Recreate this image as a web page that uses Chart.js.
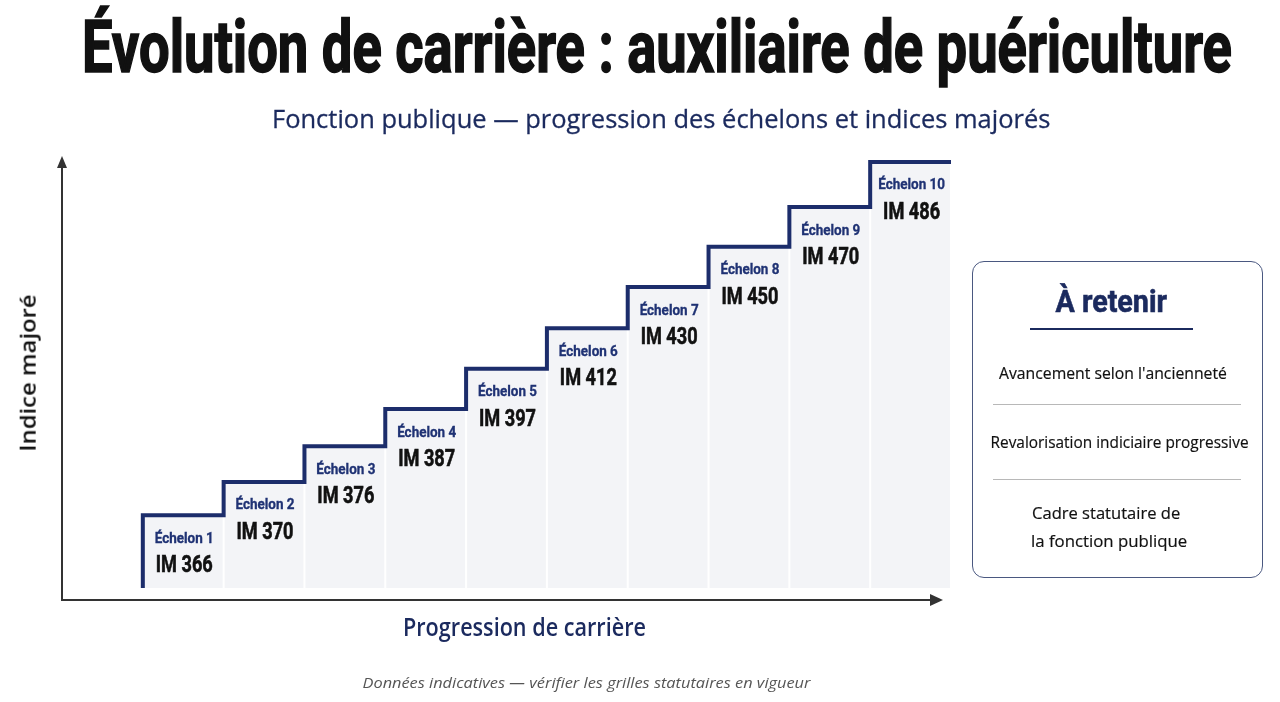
<!DOCTYPE html>
<html lang="fr">
<head>
<meta charset="utf-8">
<script src="https://cdn.jsdelivr.net/npm/chart.js@4.4.1/dist/chart.umd.min.js"></script>
<style>
  html, body { margin: 0; padding: 0; background: #fff; }
  #page { position: relative; width: 1280px; height: 702px; overflow: hidden; }
  #graph { position: absolute; left: 0; top: 0; }
  .txt { position: absolute; white-space: nowrap; line-height: 1; transform-origin: center center; }
  #titre { font: 700 72px Roboto, sans-serif; color: #111; -webkit-text-stroke: 1.6px #111; }
  #sousTitre { font: 400 26px "Open Sans", "Noto Sans", sans-serif; color: #1b2a5e; -webkit-text-stroke: 0.3px #1b2a5e; }
  #axeY { font: 600 22px "Open Sans", "Noto Sans", sans-serif; color: #111; }
  #axeX { font: 600 25px "Open Sans", "Noto Sans", sans-serif; color: #1b2a5e; }
  #note { font: italic 400 15px "Open Sans", "Noto Sans", sans-serif; color: #555; }
  #boite { position: absolute; left: 972px; top: 261px; width: 289px; height: 315px;
           border: 1.5px solid #4a5880; border-radius: 12px; box-sizing: content-box; }
  #boiteTitre { font: 700 31px Roboto, sans-serif; color: #1b2a5e; -webkit-text-stroke: 0.6px #1b2a5e; }
  .item { font: 400 17px "Open Sans", "Noto Sans", sans-serif; color: #111; -webkit-text-stroke: 0.2px #111; }
  .trait { position: absolute; height: 0; }
</style>
</head>
<body>
<div id="page">
  <canvas id="graph" width="1280" height="702"></canvas>

  <div class="txt" id="titre" data-cx="657" data-cy="47" data-w="1150">Évolution de carrière : auxiliaire de puériculture</div>
  <div class="txt" id="sousTitre" data-cx="661" data-cy="118" data-w="778">Fonction publique — progression des échelons et indices majorés</div>
  <div class="txt" id="axeY" data-cx="26" data-cy="373" data-w="157" data-rot="-90">Indice majoré</div>
  <div class="txt" id="axeX" data-cx="524" data-cy="626" data-w="243">Progression de carrière</div>
  <div class="txt" id="note" data-cx="586" data-cy="682" data-w="448">Données indicatives — vérifier les grilles statutaires en vigueur</div>

  <div id="boite"></div>
  <div class="txt" id="boiteTitre" data-cx="1111" data-cy="301" data-w="112">À retenir</div>
  <div class="trait" style="left:1030px; top:328px; width:163px; border-top:2.5px solid #1b2a5e;"></div>
  <div class="txt item" data-cx="1113" data-cy="372" data-w="228">Avancement selon l'ancienneté</div>
  <div class="trait" style="left:993px; top:404px; width:248px; border-top:1px solid #b8b8b8;"></div>
  <div class="txt item" data-cx="1119" data-cy="441" data-w="258">Revalorisation indiciaire progressive</div>
  <div class="trait" style="left:993px; top:479px; width:248px; border-top:1px solid #b8b8b8;"></div>
  <div class="txt item" data-cx="1106" data-cy="512" data-w="148">Cadre statutaire de</div>
  <div class="txt item" data-cx="1109" data-cy="540" data-w="156">la fonction publique</div>
</div>

<script>
// === Données ===
var echelons = ['Échelon 1', 'Échelon 2', 'Échelon 3', 'Échelon 4', 'Échelon 5',
                'Échelon 6', 'Échelon 7', 'Échelon 8', 'Échelon 9', 'Échelon 10']
var indices = [366, 370, 376, 387, 397, 412, 430, 450, 470, 486]
// hauteur de chaque marche (échelle visuelle 0-100)
var niveaux = [19.2, 26.7, 34.8, 43.2, 52.3, 61.5, 70.8, 79.9, 88.9, 99.1]
var niveauBase = 2.7

var navy = '#1c2d6b'

// === Texte HTML : centrage + largeur ===
document.querySelectorAll('.txt').forEach(function(el) {
    var w = el.offsetWidth
    var h = el.offsetHeight
    var s = parseFloat(el.dataset.w) / w
    var rot = el.dataset.rot ? 'rotate(' + el.dataset.rot + 'deg) ' : ''
    el.style.left = (parseFloat(el.dataset.cx) - w / 2) + 'px'
    el.style.top = (parseFloat(el.dataset.cy) - h / 2) + 'px'
    el.style.transform = rot + 'scaleX(' + s + ')'
})

// === Données du graphe ===
var barres = []
for (var i = 0; i < niveaux.length; i++) {
    barres.push({ x: i + 0.5, y: niveaux[i] })
}
// escalier : départ en bas de la 1re marche, puis un point par marche
var marches = [{ x: 0, y: niveauBase }]
for (var i = 0; i < niveaux.length; i++) {
    marches.push({ x: i, y: niveaux[i] })
}
marches.push({ x: niveaux.length, y: niveaux[niveaux.length - 1] })

// === Axes avec flèches ===
var axesPlugin = {
    id: 'axes',
    beforeDatasetsDraw: function(chart) {
        var ctx = chart.ctx
        var a = chart.chartArea
        ctx.save()
        ctx.strokeStyle = '#333'
        ctx.fillStyle = '#333'
        ctx.lineWidth = 2
        ctx.beginPath()
        ctx.moveTo(a.left, a.top + 8)
        ctx.lineTo(a.left, a.bottom)
        ctx.lineTo(a.right - 16, a.bottom)
        ctx.stroke()
        ctx.beginPath()
        ctx.moveTo(a.left, a.top - 2)
        ctx.lineTo(a.left - 5, a.top + 10)
        ctx.lineTo(a.left + 5, a.top + 10)
        ctx.closePath()
        ctx.fill()
        ctx.beginPath()
        ctx.moveTo(a.right - 8, a.bottom)
        ctx.lineTo(a.right - 21, a.bottom - 6)
        ctx.lineTo(a.right - 21, a.bottom + 6)
        ctx.closePath()
        ctx.fill()
        ctx.restore()
    }
}

// === Étiquettes des marches ===
function texteEtroit(ctx, txt, x, y, largeur) {
    var w = ctx.measureText(txt).width
    ctx.save()
    ctx.translate(x, y)
    ctx.scale(largeur / w, 1)
    ctx.fillText(txt, 0, 0)
    ctx.strokeText(txt, 0, 0)
    ctx.restore()
}

var etiquettesPlugin = {
    id: 'etiquettes',
    afterDatasetsDraw: function(chart) {
        var ctx = chart.ctx
        var meta = chart.getDatasetMeta(0)
        ctx.save()
        ctx.textAlign = 'center'
        ctx.textBaseline = 'middle'
        meta.data.forEach(function(bar, i) {
            ctx.font = '700 14px Roboto'
            ctx.fillStyle = '#1f3274'
            ctx.strokeStyle = '#1f3274'
            ctx.lineWidth = 0.3
            var k1 = 59 / ctx.measureText('Échelon 1').width
            texteEtroit(ctx, echelons[i], bar.x + 1, bar.y + 24, ctx.measureText(echelons[i]).width * k1)
            ctx.font = '700 24px Roboto'
            ctx.fillStyle = '#111'
            ctx.strokeStyle = '#111'
            ctx.lineWidth = 0.6
            var k2 = 57 / ctx.measureText('IM 366').width
            var t = 'IM ' + indices[i]
            texteEtroit(ctx, t, bar.x + 1, bar.y + 51, ctx.measureText(t).width * k2)
        })
        ctx.restore()
    }
}

var config = {
    data: {
        datasets: [{
            type: 'bar',
            data: barres,
            base: niveauBase,
            backgroundColor: '#f3f4f7',
            borderWidth: 0,
            barPercentage: 0.975,
            categoryPercentage: 1,
            order: 2
        }, {
            type: 'line',
            data: marches,
            stepped: 'before',
            borderColor: navy,
            borderWidth: 4,
            borderJoinStyle: 'miter',
            borderCapStyle: 'butt',
            pointRadius: 0,
            fill: false,
            clip: false,
            order: 1
        }]
    },
    options: {
        responsive: false,
        animation: false,
        layout: {
            padding: { left: 62, right: 329, top: 158, bottom: 102 }
        },
        plugins: {
            legend: { display: false },
            tooltip: { enabled: false }
        },
        scales: {
            x: { type: 'linear', min: -1, max: 10, offset: false, display: false },
            y: { min: 0, max: 100, display: false }
        }
    },
    plugins: [axesPlugin, etiquettesPlugin]
}

new Chart(document.getElementById('graph').getContext('2d'), config)
</script>
</body>
</html>
